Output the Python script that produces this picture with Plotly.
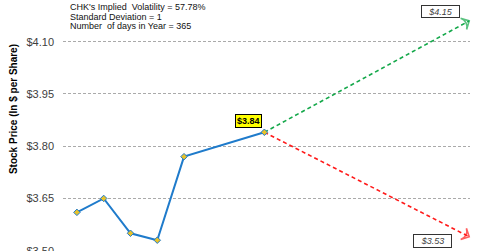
import plotly.graph_objects as go

# Historical prices
hist_x = [0, 1, 2, 3, 4, 7]
hist_y = [3.61, 3.65, 3.55, 3.53, 3.77, 3.84]

# Projection (1 standard deviation)
proj_x = [7, 14.65]
proj_high = [3.84, 4.16]
proj_low = [3.84, 3.54]
high_label = "$4.15"
low_label = "$3.53"
last_label = "$3.84"

info_lines = [
    "CHK's Implied  Volatility = 57.78%",
    "Standard Deviation = 1",
    "Number  of days in Year = 365",
]

FONT = "Arial, Liberation Sans, sans-serif"

fig = go.Figure()

fig.add_trace(go.Scatter(
    x=proj_x, y=proj_high, mode="lines+markers",
    line=dict(color="#14A84A", width=1.6, dash="4px,3px"),
    marker=dict(symbol=["circle", "arrow-wide-open"], size=[0, 9], angleref="previous",
                color="#14A84A", line=dict(color="#14A84A", width=1.6)),
    cliponaxis=False, hoverinfo="skip", showlegend=False,
))
fig.add_trace(go.Scatter(
    x=proj_x, y=proj_low, mode="lines+markers",
    line=dict(color="#FF1A1A", width=1.6, dash="4px,3px"),
    marker=dict(symbol=["circle", "arrow-wide-open"], size=[0, 9], angleref="previous",
                color="#FF1A1A", line=dict(color="#FF1A1A", width=1.6)),
    cliponaxis=False, hoverinfo="skip", showlegend=False,
))
fig.add_trace(go.Scatter(
    x=hist_x, y=hist_y, mode="lines+markers",
    line=dict(color="#1F7BCB", width=2),
    marker=dict(symbol="diamond", size=5, color="#E8C22A", line=dict(color="#1F7BCB", width=1)),
    cliponaxis=False, showlegend=False,
))

annotations = []
for i, t in enumerate(info_lines):
    annotations.append(dict(
        text=t, xref="paper", yref="paper", x=(68 - 63) / 407.4, y=1 - (7.5 + 9.2 * i) / 251,
        xanchor="left", yanchor="middle", showarrow=False,
        font=dict(family=FONT, size=9, color="#111111"),
    ))

annotations.append(dict(
    text="<b>" + last_label + "</b>", x=hist_x[-1], y=hist_y[-1], xref="x", yref="y",
    xanchor="right", yanchor="bottom", xshift=-2, yshift=4, showarrow=False,
    bgcolor="#FFFF00", bordercolor="#000000", borderwidth=1, borderpad=1,
    font=dict(family=FONT, size=9, color="#000000"),
))
annotations.append(dict(
    text="<i>" + high_label + "</i>", xref="paper", yref="paper",
    x=(440.5 - 63) / 407.4, y=1 - 11.4 / 251, xanchor="center", yanchor="middle",
    showarrow=False, bgcolor="#FFFFFF", bordercolor="#333333", borderwidth=1,
    width=35, height=9, borderpad=1,
    font=dict(family=FONT, size=9, color="#404040"),
))
annotations.append(dict(
    text="<i>" + low_label + "</i>", xref="paper", yref="paper",
    x=(433 - 63) / 407.4, y=1 - 240.5 / 251, xanchor="center", yanchor="middle",
    showarrow=False, bgcolor="#FFFFFF", bordercolor="#333333", borderwidth=1,
    width=35, height=10, borderpad=1,
    font=dict(family=FONT, size=9, color="#404040"),
))
annotations.append(dict(
    text="<b>Stock Price (In $ per Share)</b>", xref="paper", yref="paper",
    x=(13 - 63) / 407.4, y=1 - 109 / 251, xanchor="center", yanchor="middle",
    textangle=-90, showarrow=False,
    font=dict(family=FONT, size=10, color="#000000"),
))

fig.update_layout(
    width=480, height=251,
    margin=dict(l=63, r=9.6, t=0, b=0, autoexpand=False),
    paper_bgcolor="white", plot_bgcolor="white",
    font=dict(family=FONT),
    annotations=annotations,
    xaxis=dict(range=[-0.52, 14.68], showgrid=False, showticklabels=False,
               zeroline=False, showline=False, ticks="", automargin=False),
    yaxis=dict(range=[3.499, 4.22], tick0=3.5, dtick=0.15, tickprefix="$",
               tickformat=".2f", showgrid=True, gridcolor="#AAAAAA", griddash="3px,2px",
               gridwidth=1, zeroline=False, showline=False, ticks="",
               ticklabelstandoff=8, ticklabeloverflow="allow", automargin=False,
               tickfont=dict(family=FONT, size=11, color="#404040")),
)

fig.write_html("out.html")
